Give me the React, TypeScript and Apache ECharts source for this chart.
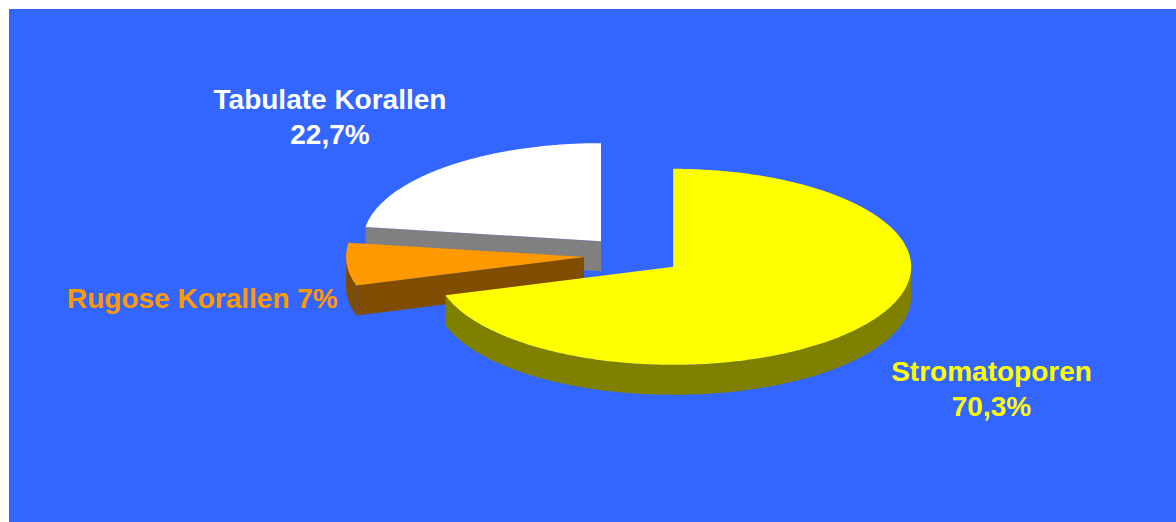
import React, { useEffect, useRef } from 'react';
import * as echarts from 'echarts';

// ---- data ----
const categories = ['Stromatoporen', 'Rugose Korallen', 'Tabulate Korallen'];
const values = [70.3, 7, 22.7];

// ---- style ----
const topColors = ['#FFFF00', '#FF9900', '#FFFFFF'];
const sideColors = ['#808000', '#804C00', '#808080'];
const labelColors = ['#FFFF00', '#FF9900', '#FFFFFF'];
const labelSeparators = ['\n', ' ', '\n'];
const labelAnchors: [number, number, string][] = [
  [982.5, 380, 'center'],
  [58, 289, 'left'],
  [321, 108, 'center'],
];

const RX = 238;
const RY = 98;
const DEPTH = 30;
const CX = 624.4;
const CY = 246.5;
const EXPLODE_X = 49.5;
const EXPLODE_Y = 19;
const FONT = 'bold 28px "Liberation Sans", Arial, sans-serif';

const total = values.reduce((a, b) => a + b, 0);
const starts: number[] = [];
{
  let acc = 0;
  for (const v of values) {
    starts.push((acc / total) * 360);
    acc += v;
  }
}
// back-to-front ranking by mid-angle depth
const mids = values.map((v, i) => starts[i] + ((v / total) * 360) / 2);
const depthKey = mids.map((m) => -Math.cos((m * Math.PI) / 180));
const order = depthKey
  .map((d, i) => ({ d, i }))
  .sort((a, b) => a.d - b.d)
  .map((o) => o.i);
const rank = values.map((_, i) => order.indexOf(i));

const fmt = (v: number) => String(v).replace('.', ',') + '%';

function renderItem(params: any, api: any) {
  const i = params.dataIndex;
  const val = api.value(0);
  const a0 = starts[i];
  const a1 = a0 + (val / total) * 360;
  const mid = (((a0 + a1) / 2) * Math.PI) / 180;
  const ox = CX + EXPLODE_X * Math.sin(mid);
  const oy = CY - EXPLODE_Y * Math.cos(mid);
  const pt = (deg: number, dy: number): number[] => {
    const r = (deg * Math.PI) / 180;
    return [ox + RX * Math.sin(r), oy - RY * Math.cos(r) + dy];
  };
  const arc = (s: number, e: number, dy: number): number[][] => {
    const pts: number[][] = [];
    const n = Math.max(2, Math.ceil(Math.abs(e - s) / 0.5));
    for (let k = 0; k <= n; k++) pts.push(pt(s + ((e - s) * k) / n, dy));
    return pts;
  };
  const base = rank[i] * 10;
  const children: any[] = [];
  const side = sideColors[i];

  // radial face at start edge
  if (Math.sin((a0 * Math.PI) / 180) < -1e-6) {
    const p = pt(a0, 0);
    children.push({
      type: 'polygon',
      z2: base + 1,
      shape: { points: [[ox, oy], p, [p[0], p[1] + DEPTH], [ox, oy + DEPTH]] },
      style: { fill: side },
    });
  }
  // radial face at end edge
  if (Math.sin((a1 * Math.PI) / 180) > 1e-6) {
    const p = pt(a1, 0);
    children.push({
      type: 'polygon',
      z2: base + 1,
      shape: { points: [[ox, oy], p, [p[0], p[1] + DEPTH], [ox, oy + DEPTH]] },
      style: { fill: side },
    });
  }
  // outer wall (front half: 90..270)
  const ws = Math.max(a0, 90);
  const we = Math.min(a1, 270);
  if (we > ws) {
    const topArc = arc(ws, we, 0);
    const botArc = arc(we, ws, DEPTH);
    children.push({
      type: 'polygon',
      z2: base + 2,
      shape: { points: topArc.concat(botArc) },
      style: { fill: side },
    });
  }
  // top face
  children.push({
    type: 'polygon',
    z2: base + 3,
    shape: { points: [[ox, oy]].concat(arc(a0, a1, 0)) },
    style: { fill: topColors[i] },
  });
  // label
  const [lx, ly, align] = labelAnchors[i];
  children.push({
    type: 'text',
    z2: 100,
    style: {
      text: categories[i] + labelSeparators[i] + fmt(val),
      x: lx,
      y: ly,
      fill: labelColors[i],
      font: FONT,
      align,
      verticalAlign: 'middle',
      lineHeight: 35,
    },
  });
  return { type: 'group', children };
}

export default function App() {
  const ref = useRef<HTMLDivElement>(null);
  useEffect(() => {
    if (!ref.current) return;
    const chart = echarts.init(ref.current, undefined, { renderer: 'svg' });
    chart.setOption({
      animation: false,
      backgroundColor: '#3366FF',
      series: [
        {
          type: 'custom',
          coordinateSystem: 'none',
          silent: true,
          renderItem,
          data: values.map((v, i) => ({ name: categories[i], value: [v] })),
        },
      ],
    });
    return () => chart.dispose();
  }, []);
  return (
    <div
      ref={ref}
      style={{ position: 'absolute', left: 9, top: 9, width: 1167, height: 513 }}
    />
  );
}
